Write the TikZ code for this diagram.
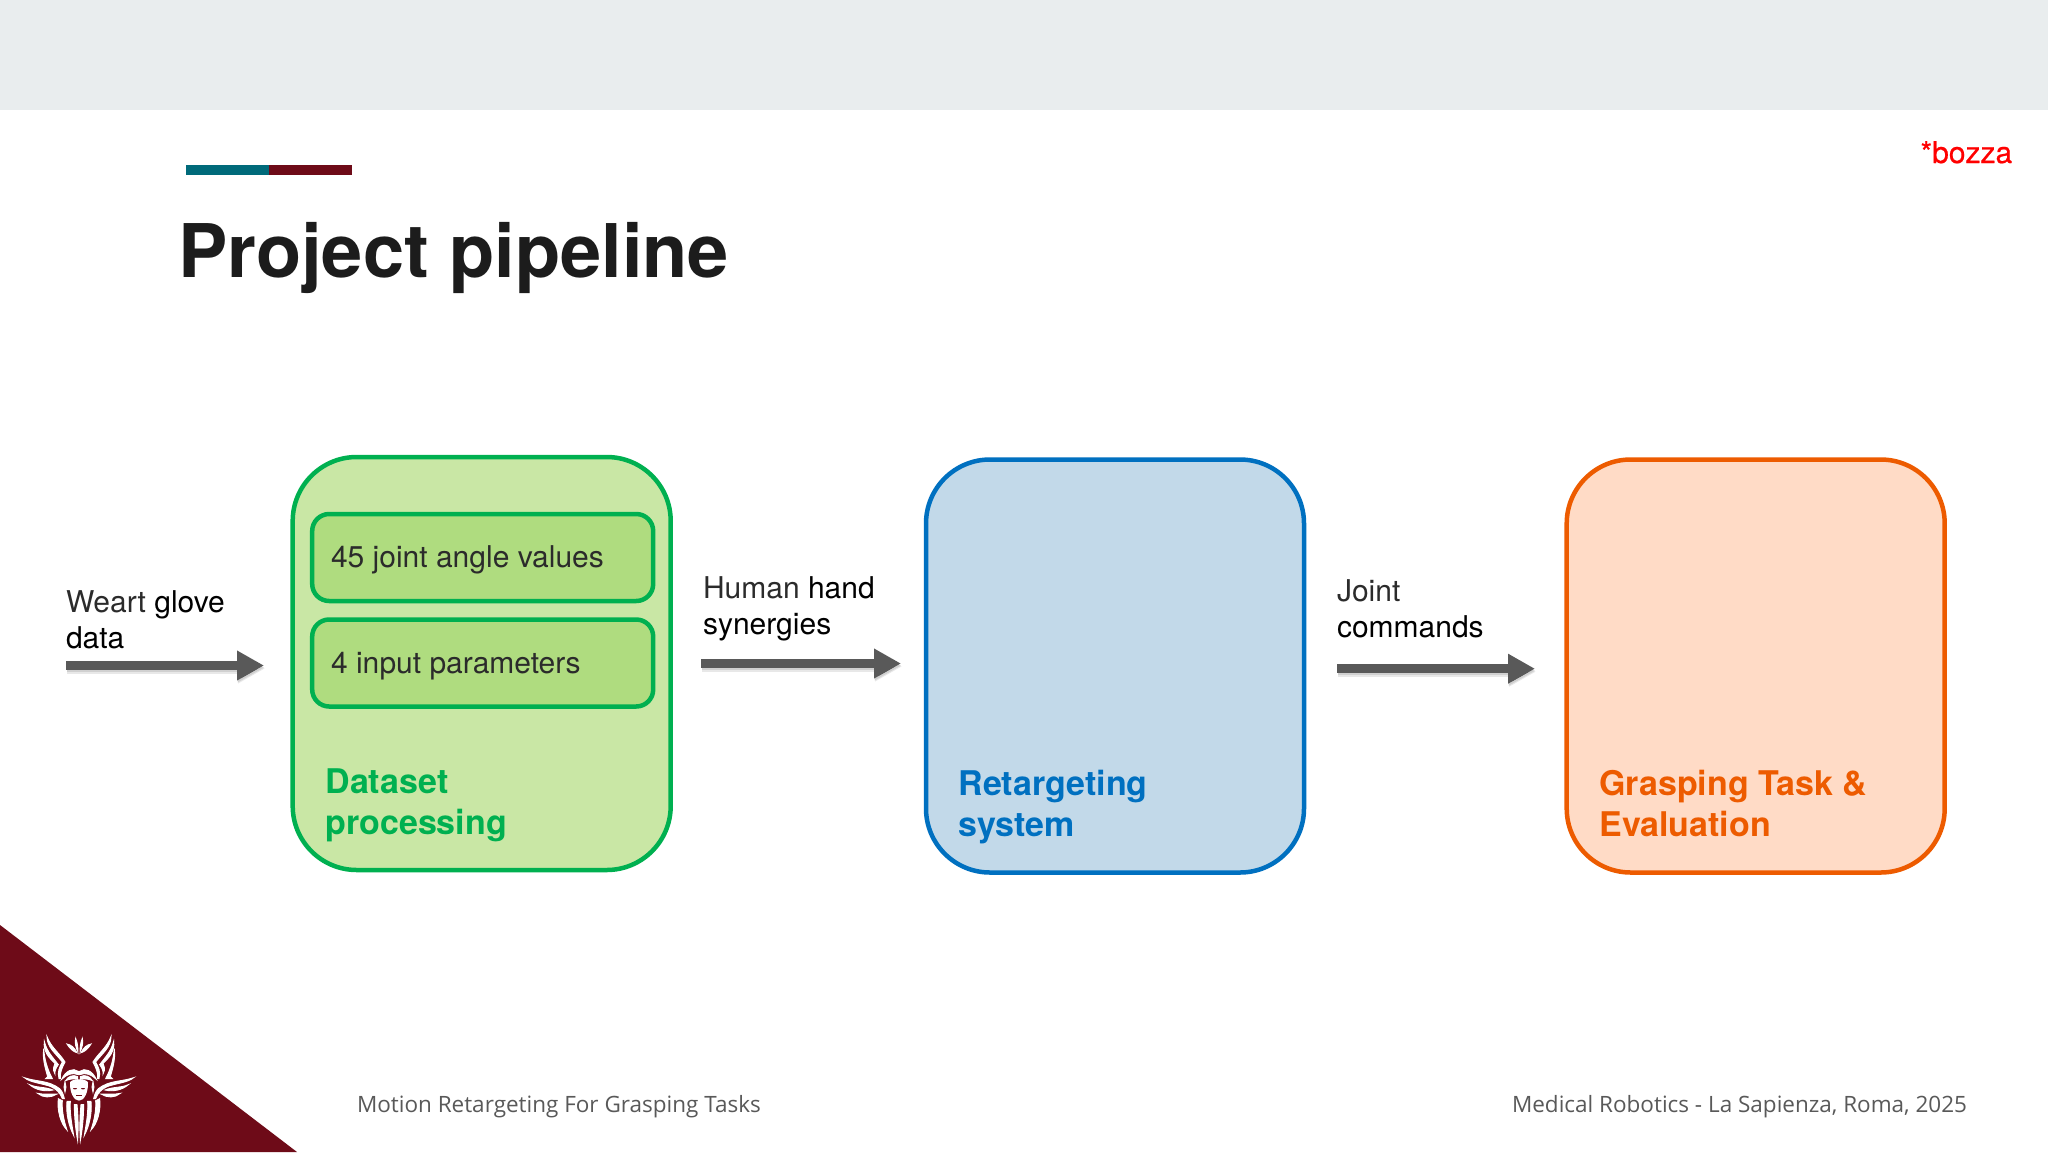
\documentclass[tikz,border=0pt]{standalone}
\usepackage{fontspec}
\setmainfont{TeX Gyre Heros}
\newfontfamily\footfont{Open Sans}
\newfontfamily\draftfont[FakeBold=0.5]{TeX Gyre Heros}
\usetikzlibrary{arrows.meta}
\definecolor{band}{HTML}{E9EDEE}
\definecolor{teal}{HTML}{006A7A}
\definecolor{maroon}{HTML}{6E0B18}
\definecolor{inkdark}{HTML}{1C1C1C}
\definecolor{softink}{HTML}{2B2B2B}
\definecolor{footgray}{HTML}{595959}
\definecolor{arrowgray}{HTML}{595959}
\definecolor{gstroke}{HTML}{00B050}
\definecolor{gfill}{HTML}{C9E7A5}
\definecolor{ginner}{HTML}{AFDC7F}
\definecolor{bstroke}{HTML}{0070C0}
\definecolor{bfill}{HTML}{C2D9E9}
\definecolor{ostroke}{HTML}{ED5B00}
\definecolor{ofill}{HTML}{FFDBC6}
\newcommand{\dk}[1]{\textcolor{softink}{#1}}
\newcommand{\lbl}[2]{\fontsize{#1}{#2}\selectfont}
\tikzset{
  stage/.style={draw=#1,line width=4.5pt,rounded corners=64pt,minimum width=378pt,minimum height=413pt,inner sep=0pt},
  sub/.style={draw=gstroke,fill=ginner,line width=4.5pt,rounded corners=17pt,minimum width=341pt,minimum height=87pt,inner sep=0pt},
  plain/.style={inner sep=0pt,outer sep=0pt,anchor=base west,align=left,text=black},
  subtext/.style={plain,font=\lbl{30}{36},text=softink},
  flowtext/.style={plain,font=\lbl{30}{36}},
  stagetext/.style={plain,font=\bfseries\lbl{34}{41}},
  foot/.style={plain,font=\footfont\lbl{22.5}{27},text=footgray},
  flow/.style={draw=arrowgray,line width=9.5pt,-{Triangle[length=27pt,width=28pt]},
    preaction={draw=black,draw opacity=.09,line width=11pt,transform canvas={xshift=1pt,yshift=-3pt}},
    preaction={draw=black,draw opacity=.1,line width=8pt,transform canvas={xshift=.5pt,yshift=-2pt}}},
  logo/.style={fill=white,draw=white,line width=.9pt}
}
\newcommand{\logohalf}{%
  % horn strands
  \fill[logo] (-96,20) .. controls (-84,52) and (-56,72) .. (-42,96) .. controls (-50,112) and (-58,128) .. (-56,146) -- (-60,146) .. controls (-66,126) and (-58,110) .. (-50,96) .. controls (-70,70) and (-96,52) .. (-96,20) -- cycle;
  \fill[logo] (-104,34) .. controls (-96,66) and (-78,82) .. (-62,104) .. controls (-68,112) and (-74,124) .. (-72,132) .. controls (-80,118) and (-76,108) .. (-72,100) .. controls (-90,84) and (-108,64) .. (-104,34) -- cycle;
  \fill[logo] (-106,56) .. controls (-104,84) and (-96,116) .. (-80,146) -- (-100,146) -- (-94,140) .. controls (-100,118) and (-110,90) .. (-106,56) -- cycle;
  % crown
  \fill[logo] (-36,42) .. controls (-24,44) and (-14,52) .. (-6,68) .. controls (-16,66) and (-28,56) .. (-36,42) -- cycle;
  \fill[logo] (-10,25) .. controls (-5,36) and (-3,50) .. (-3,66) .. controls (-10,52) and (-13,38) .. (-10,25) -- cycle;
  % lateral wing feathers
  \fill[logo] (-164,143) .. controls (-126,156) and (-92,150) .. (-58,176) .. controls (-50,184) and (-46,196) .. (-44,206) -- (-50,206) .. controls (-56,190) and (-66,178) .. (-84,170) .. controls (-110,160) and (-146,158) .. (-164,143) -- cycle;
  \fill[logo] (-148,164) .. controls (-126,174) and (-102,170) .. (-78,180) .. controls (-102,186) and (-130,180) .. (-148,164) -- cycle;
  \fill[logo] (-124,190) .. controls (-106,194) and (-86,192) .. (-66,192) .. controls (-84,204) and (-108,204) .. (-124,190) -- cycle;
  % hair
  \fill[logo] (-2,124) .. controls (-18,112) and (-40,122) .. (-52,148) .. controls (-38,134) and (-20,126) .. (-2,134) -- cycle;
  \fill[logo] (-4,140) .. controls (-18,132) and (-34,140) .. (-40,152) .. controls (-28,146) and (-16,146) .. (-4,148) -- cycle;
  \fill[logo] (-42,156) .. controls (-46,166) and (-46,176) .. (-42,186) .. controls (-38,176) and (-38,166) .. (-42,156) -- cycle;
  % lower strands
  \fill[logo] (-62,206) .. controls (-66,240) and (-56,280) .. (-36,300) .. controls (-46,270) and (-52,240) .. (-50,212) -- cycle;
  \fill[logo] (-36,214) .. controls (-40,250) and (-30,290) .. (-16,316) .. controls (-22,280) and (-28,250) .. (-26,214) -- cycle;
  \fill[logo] (-14,224) .. controls (-14,260) and (-10,300) .. (-4,332) .. controls (-2,300) and (-2,260) .. (-6,224) -- cycle;
}
\begin{document}
\begin{tikzpicture}[x=1pt,y=-1pt]
\useasboundingbox (0,0) rectangle (2048,1152);
\fill[white] (0,0) rectangle (2048,1152);
\fill[band] (0,0) rectangle (2048,110);
\fill[teal] (186,165) rectangle (269,175);
\fill[maroon] (269,165) rectangle (352,175);
\fill[maroon] (0,925) -- (297,1152) -- (0,1152) -- cycle;
% emblem
\begin{scope}[shift={(79,1030)},x=0.3333pt,y=-0.3333pt]
  \logohalf
  \begin{scope}[x=-0.3333pt]\logohalf\end{scope}
  \fill[white] (0,158) ellipse (27 and 10);
  \fill[white] (-27,158) .. controls (-28,190) and (-14,212) .. (0,212) .. controls (14,212) and (28,190) .. (27,158) -- cycle;
  \fill[maroon] (-12,176) ellipse (6 and 2);
  \fill[maroon] (12,176) ellipse (6 and 2);
  \fill[maroon] (-8,196) rectangle (8,198);
\end{scope}

\node[plain,font=\bfseries\lbl{74}{88},text=inkdark] (title) at (178,277) {Project pipeline};
\node[plain,font=\draftfont\lbl{30}{36},text=red] (draft) at (1920.5,163) {*bozza};

\node[stage=gstroke,fill=gfill] (dataset) at (481.7,663.5) {};
\node[stage=bstroke,fill=bfill] (retarget) at (1115,666) {};
\node[stage=ostroke,fill=ofill] (grasp) at (1755.7,666) {};
\node[sub] (angles) at (482.7,557.5) {};
\node[sub] (params) at (482.7,663) {};

\node[subtext] (anglestext) at (331,567) {45 joint angle values};
\node[subtext] (paramstext) at (331,673) {4 input parameters};
\node[stagetext,text=gstroke] (datasettext) at (325.5,834) {Dataset\\processing};
\node[stagetext,text=bstroke] (retargettext) at (958.5,836) {Retargeting\\system};
\node[stagetext,text=ostroke] (grasptext) at (1599.5,836) {Grasping Task \&\\Evaluation};

\node[flowtext] (gloveL) at (66,648) {\dk{Weart} glove\\data};
\node[flowtext] (handL) at (703,634.5) {\dk{Human} hand\\synergies};
\node[flowtext] (jointL) at (1337,637) {\dk{Joint}\\commands};

\coordinate (a1s) at (66,665.5);
\coordinate (a1e) at (264,665.5);
\coordinate (a2s) at (701,663.5);
\coordinate (a2e) at (901,663.5);
\coordinate (a3s) at (1337,668.7);
\coordinate (a3e) at (1535,668.7);
\draw[flow] (a1s) -- (a1e);
\draw[flow] (a2s) -- (a2e);
\draw[flow] (a3s) -- (a3e);

\node[foot] (footL) at (357,1112.5) {Motion Retargeting For Grasping Tasks};
\node[foot] (footR) at (1512,1112.5) {Medical Robotics - La Sapienza, Roma, 2025};
\end{tikzpicture}
\end{document}
